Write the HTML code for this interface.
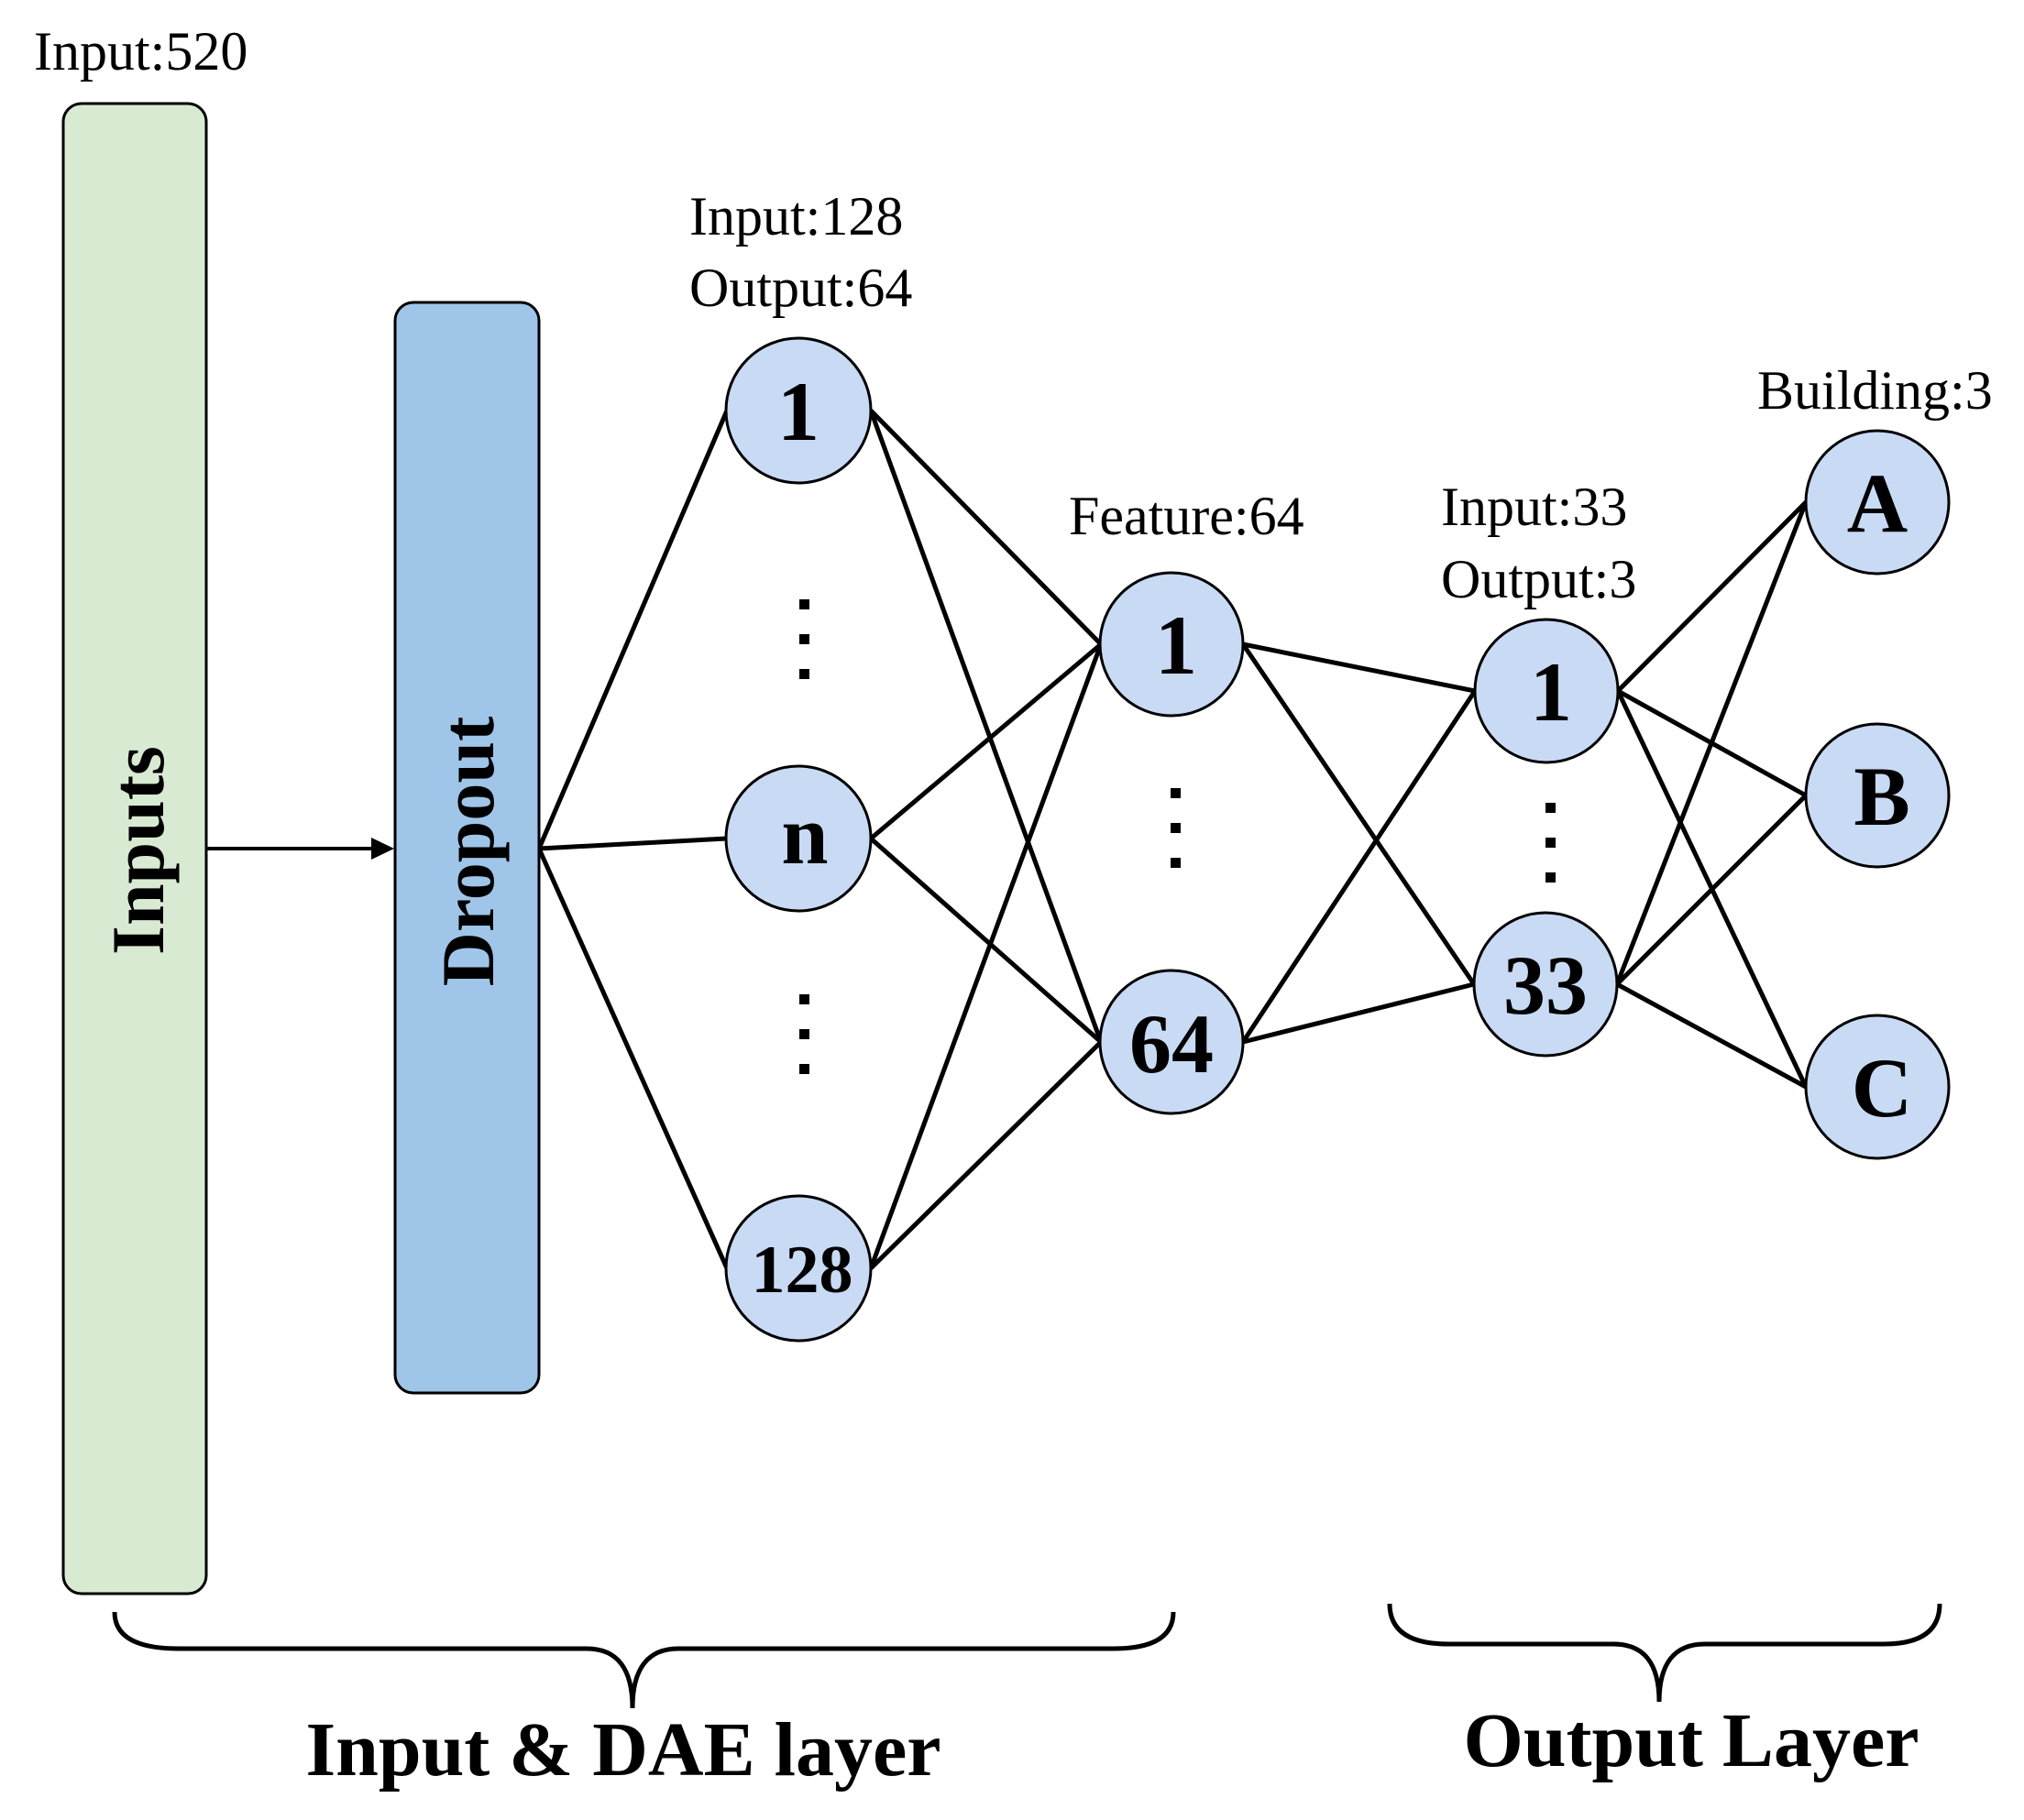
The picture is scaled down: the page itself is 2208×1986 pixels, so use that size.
<!DOCTYPE html>
<html><head><meta charset="utf-8"><style>
html,body{margin:0;padding:0;background:#fff;}
svg{display:block;}
text{font-family:"Liberation Serif",serif;fill:#000;}
.b{font-weight:bold;}
</style></head><body>
<svg width="2208" height="1986" viewBox="0 0 2208 1986" xmlns="http://www.w3.org/2000/svg">
<g stroke="#000" stroke-width="5" fill="none">
<line x1="588" y1="926" x2="793" y2="448"/>
<line x1="588" y1="926" x2="793" y2="915"/>
<line x1="588" y1="926" x2="793" y2="1384"/>
<line x1="950" y1="448" x2="1201" y2="703"/>
<line x1="950" y1="448" x2="1201" y2="1137"/>
<line x1="950" y1="915" x2="1201" y2="703"/>
<line x1="950" y1="915" x2="1201" y2="1137"/>
<line x1="950" y1="1384" x2="1201" y2="703"/>
<line x1="950" y1="1384" x2="1201" y2="1137"/>
<line x1="1356" y1="703" x2="1609" y2="754"/>
<line x1="1356" y1="703" x2="1608" y2="1074"/>
<line x1="1356" y1="1137" x2="1609" y2="754"/>
<line x1="1356" y1="1137" x2="1608" y2="1074"/>
<line x1="1765" y1="754" x2="1970" y2="548"/>
<line x1="1765" y1="754" x2="1970" y2="868"/>
<line x1="1765" y1="754" x2="1970" y2="1186"/>
<line x1="1764" y1="1074" x2="1970" y2="548"/>
<line x1="1764" y1="1074" x2="1970" y2="868"/>
<line x1="1764" y1="1074" x2="1970" y2="1186"/>
<line x1="225" y1="926" x2="410" y2="926" stroke-width="4"/>
</g>
<polygon points="430,926 405,914 405,938" fill="#000"/>
<rect x="69" y="113" width="156" height="1626" rx="20" fill="#d9ead3" stroke="#000" stroke-width="3"/>
<rect x="431" y="330" width="157" height="1190" rx="20" fill="#9fc5e8" stroke="#000" stroke-width="3"/>
<text class="b" font-size="82" text-anchor="middle" transform="translate(178,928) rotate(-90)">Inputs</text>
<text class="b" font-size="82" text-anchor="middle" transform="translate(538,929) rotate(-90)">Dropout</text>
<g fill="#c9daf5" stroke="#000" stroke-width="3">
<circle cx="871" cy="448" r="79"/>
<circle cx="871" cy="915" r="79"/>
<circle cx="871" cy="1384" r="79"/>
<circle cx="1278" cy="703" r="78"/>
<circle cx="1278" cy="1137" r="78"/>
<circle cx="1687" cy="754" r="78"/>
<circle cx="1686" cy="1074" r="78"/>
<circle cx="2048" cy="548" r="78"/>
<circle cx="2048" cy="868" r="78"/>
<circle cx="2048" cy="1186" r="78"/>
</g>
<g class="b" font-size="92" text-anchor="middle">
<text x="871" y="480">1</text>
<text x="878" y="942">n</text>
<text x="875" y="1410" font-size="74">128</text>
<text x="1283" y="735">1</text>
<text x="1278" y="1170">64</text>
<text x="1692" y="786">1</text>
<text x="1686" y="1106">33</text>
<text x="2048" y="580">A</text>
<text x="2053" y="900">B</text>
<text x="2053" y="1218">C</text>
</g>
<g fill="#000">
<rect x="872" y="654" width="11" height="11"/><rect x="872" y="692" width="11" height="11"/><rect x="872" y="730" width="11" height="11"/>
<rect x="872" y="1085" width="11" height="11"/><rect x="872" y="1123" width="11" height="11"/><rect x="872" y="1161" width="11" height="11"/>
<rect x="1277" y="860" width="11" height="11"/><rect x="1277" y="898" width="11" height="11"/><rect x="1277" y="936" width="11" height="11"/>
<rect x="1686" y="876" width="11" height="11"/><rect x="1686" y="914" width="11" height="11"/><rect x="1686" y="952" width="11" height="11"/>
</g>
<g font-size="60">
<text x="37" y="76">Input:520</text>
<text x="752" y="256">Input:128</text>
<text x="752" y="334">Output:64</text>
<text x="1166" y="583">Feature:64</text>
<text x="1572" y="573">Input:33</text>
<text x="1572" y="652">Output:3</text>
<text x="1917" y="446">Building:3</text>
</g>
<g stroke="#000" stroke-width="5" fill="none">
<path d="M125,1759 Q125,1799 195,1799 L640,1799 Q690,1799 690,1864 Q690,1799 740,1799 L1215,1799 Q1280,1799 1280,1759"/>
<path d="M1516,1750 Q1516,1794 1580,1794 L1760,1794 Q1810,1794 1810,1857 Q1810,1794 1860,1794 L2055,1794 Q2116,1794 2116,1750"/>
</g>
<text class="b" x="680" y="1937" font-size="84" text-anchor="middle">Input &amp; DAE layer</text>
<text class="b" x="1845" y="1927" font-size="84" text-anchor="middle">Output Layer</text>
</svg>
</body></html>
